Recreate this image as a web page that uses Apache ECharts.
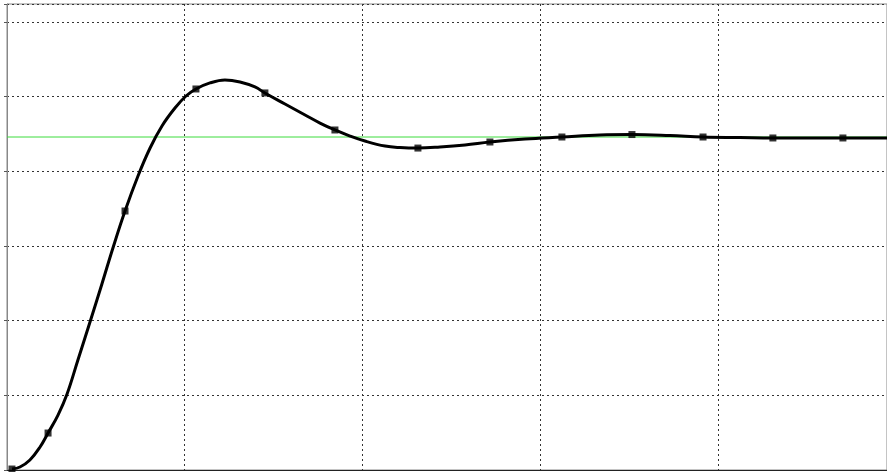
<!DOCTYPE html>
<html>
<head>
<meta charset="utf-8">
<script src="https://cdn.jsdelivr.net/npm/echarts@6/dist/echarts.min.js"></script>
<style>
  html, body { margin: 0; padding: 0; background: #fff; }
  #chart { width: 887px; height: 472px; }
</style>
</head>
<body>
<div id="chart"></div>
<script>
// step response (x and y in grid units)
const timeValues = [0.028, 0.073, 0.129, 0.186, 0.231, 0.287, 0.338, 0.399, 0.467, 0.534, 0.596,
  0.664, 0.737, 0.805, 0.872, 0.945, 1.007, 1.063, 1.142, 1.226, 1.311, 1.395, 1.451, 1.564,
  1.677, 1.761, 1.845, 1.930, 2.014, 2.127, 2.211, 2.312, 2.436, 2.577, 2.717, 2.914, 3.122,
  3.336, 3.516, 3.730, 3.916, 4.124, 4.309, 4.703, 4.951];
const responseValues = [0.013, 0.040, 0.134, 0.308, 0.495, 0.736, 1.018, 1.473, 1.982, 2.491, 2.973,
  3.468, 3.937, 4.312, 4.607, 4.847, 5.008, 5.102, 5.183, 5.223, 5.196, 5.129, 5.049, 4.901,
  4.754, 4.646, 4.553, 4.472, 4.405, 4.338, 4.318, 4.311, 4.325, 4.352, 4.392, 4.432, 4.459,
  4.486, 4.492, 4.479, 4.459, 4.452, 4.446, 4.446, 4.446];

// sample points drawn as square markers
const markerTimes = [0.028, 0.231, 0.664, 1.063, 1.451, 1.845, 2.312, 2.717, 3.122, 3.516, 3.916, 4.309, 4.703];
const markerValues = [0.013, 0.495, 3.468, 5.102, 5.049, 4.553, 4.311, 4.392, 4.459, 4.492, 4.459, 4.446, 4.446];

const setpoint = 4.459;
const xRange = [0, 4.951];
const yRange = [0, 6.24];

const chart = echarts.init(document.getElementById("chart"));

const dotted = { color: "#333", type: [2, 3], width: 1 };

chart.setOption({
  backgroundColor: "#fff",
  animation: false,
  grid: {
    left: 7, right: -1, top: 4, bottom: 2,
    show: true,
    borderColor: "#888",
    borderWidth: 1
  },
  xAxis: {
    type: "value",
    min: xRange[0],
    max: xRange[1],
    interval: 1,
    axisLabel: { show: false },
    axisTick: { show: false },
    axisLine: { show: true, lineStyle: { color: "#222", width: 1 } },
    splitLine: { show: true, lineStyle: dotted }
  },
  yAxis: {
    type: "value",
    min: yRange[0],
    max: yRange[1],
    interval: 1,
    axisLabel: { show: false },
    axisTick: { show: true, inside: false, length: 3, lineStyle: { color: "#555" } },
    axisLine: { show: true, lineStyle: { color: "#888", width: 1 } },
    splitLine: { show: true, lineStyle: dotted }
  },
  series: [
    {
      name: "setpoint",
      type: "line",
      data: [[xRange[0], setpoint], [xRange[1], setpoint]],
      symbol: "none",
      lineStyle: { color: "#3ddc3d", width: 1 },
      z: 2
    },
    {
      name: "response",
      type: "line",
      data: timeValues.map((t, i) => [t, responseValues[i]]),
      smooth: 0.4,
      symbol: "none",
      lineStyle: { color: "#000", width: 3 },
      z: 3
    },
    {
      name: "samples",
      type: "scatter",
      data: markerTimes.map((t, i) => [t, markerValues[i]]),
      symbol: "rect",
      symbolSize: 7,
      itemStyle: { color: "#000" },
      z: 4
    }
  ]
});
</script>
</body>
</html>
